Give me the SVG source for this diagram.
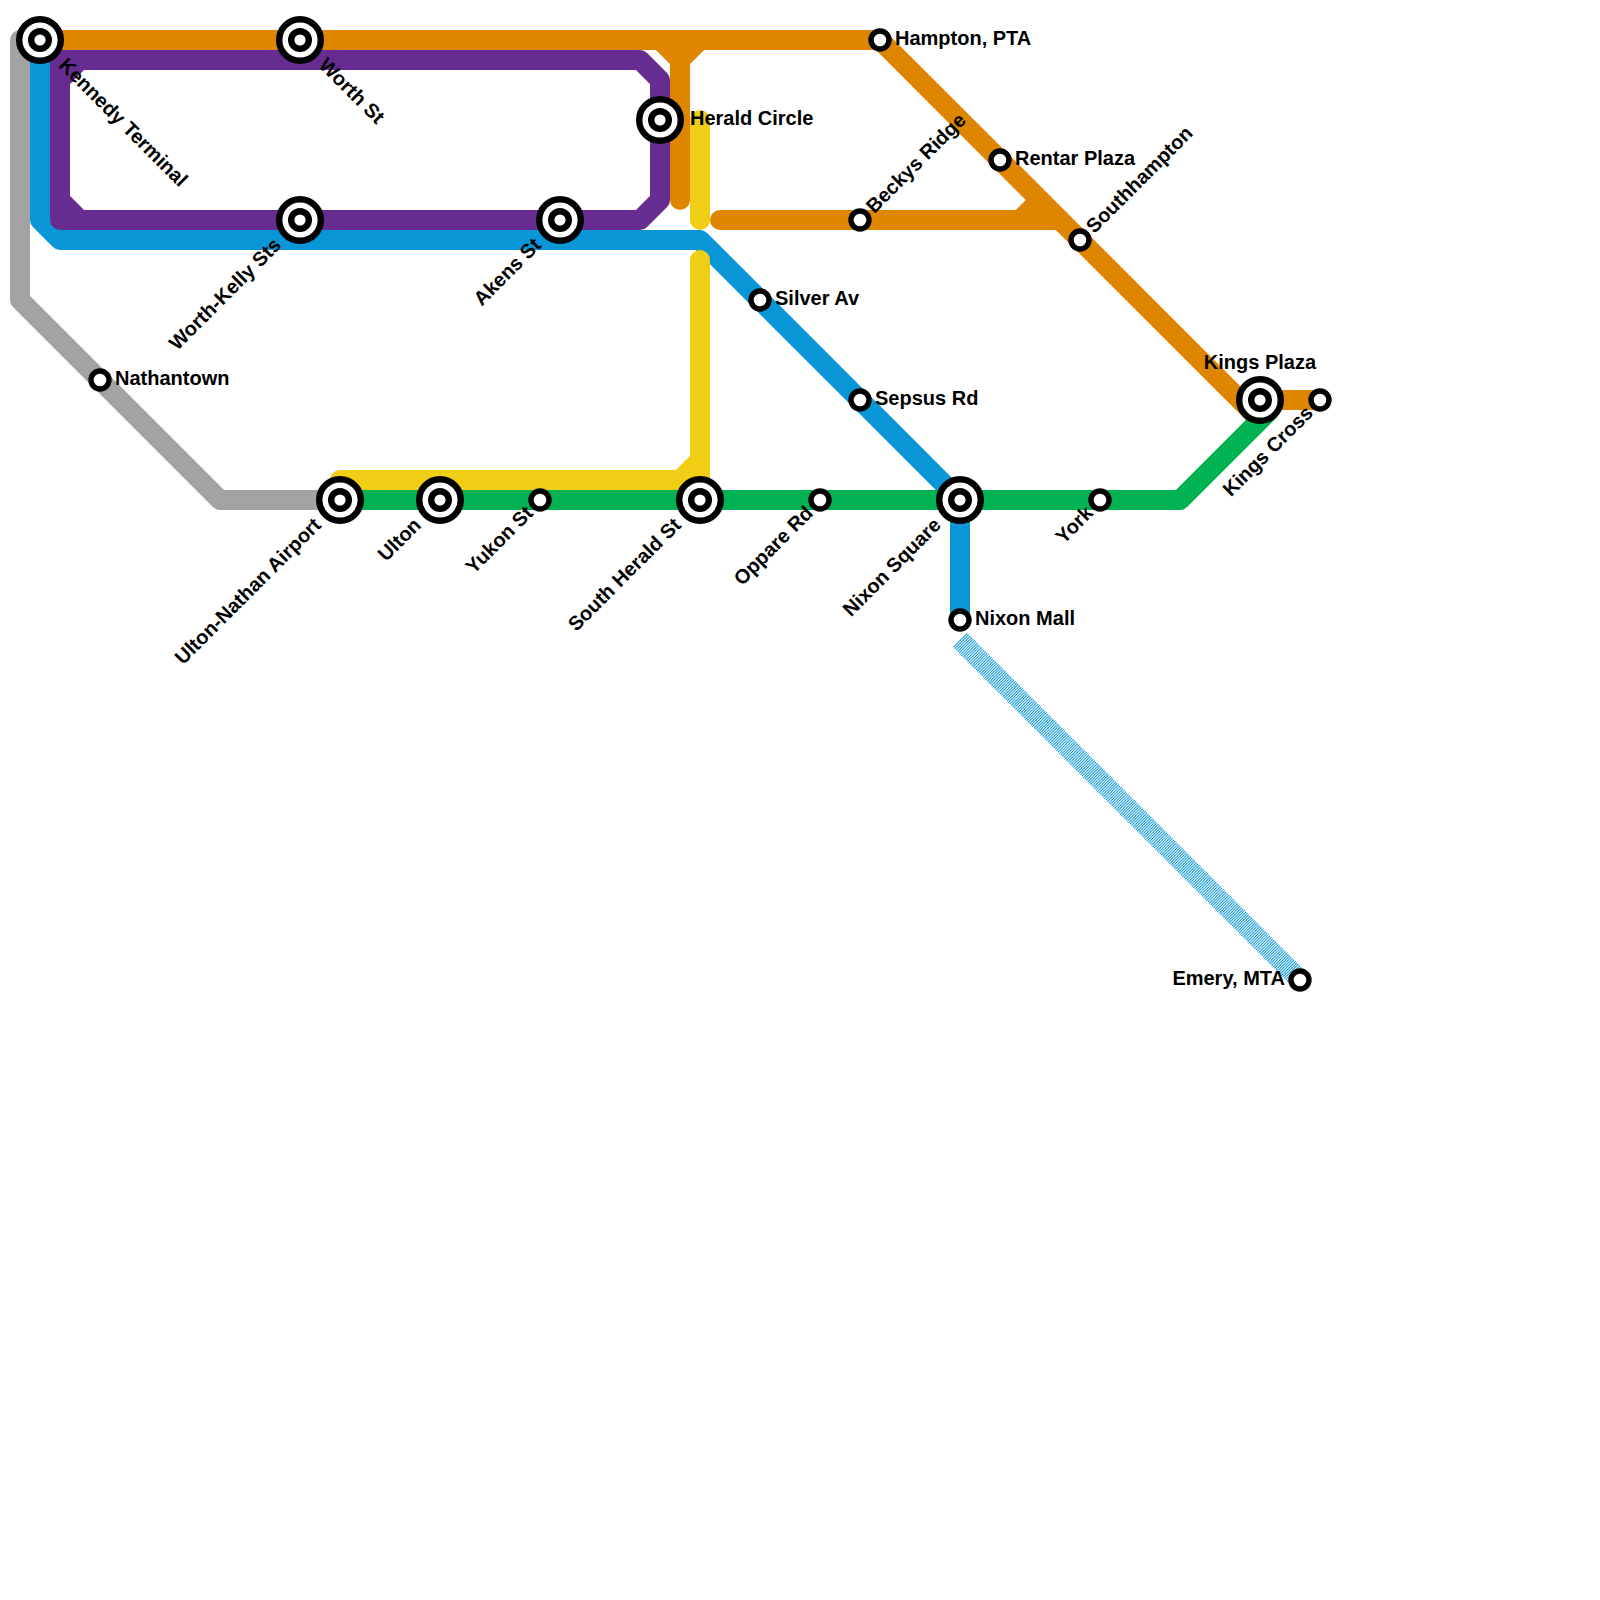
<svg xmlns="http://www.w3.org/2000/svg" width="1600" height="1600" viewBox="0 0 1600 1600">
<style>
.l{fill:none;stroke-width:20;stroke-linejoin:round}
.r{stroke-linecap:round}
.s1{fill:#fff;stroke:#000;stroke-width:6.4}
.s2{fill:#fff;stroke:#000;stroke-width:6.4}
.s3{fill:#fff;stroke:#000;stroke-width:5.4}
text{font-family:"Liberation Sans",Arial,sans-serif;font-weight:700;font-size:20px;fill:#000}
.e{text-anchor:end}.m{text-anchor:middle}
</style>
<rect width="1600" height="1600" fill="#fff"/>
<g id="connectors">
<path class="l" stroke="#a3a3a3" d="M40,40H20V300L220,500H340"/>
<path class="l" stroke="#0896d7" d="M40,40V220L60,240H700L960,500V620"/>
<path class="l" stroke="#0896d7" stroke-dasharray="1 1" d="M960,640L1300,980"/>
<path class="l" stroke="#662c90" d="M60,60H640L660,80V200L640,220H60ZM60,80L80,60M60,200L80,220"/>
<path class="l" stroke="#df8600" d="M40,40H880L1260,420M1240,400H1320M660,40L680,60L700,40"/>
<path class="l" stroke="#df8600" d="M680,60V200" stroke-linecap="round"/>
<path class="l r" stroke="#df8600" d="M720,220H1060M1020,220L1040,200"/>
<path class="l r" stroke="#f0ce15" d="M700,120V220"/>
<path class="l r" stroke="#f0ce15" d="M700,260V480H340M680,480L700,460"/>
<path class="l" stroke="#00b251" d="M340,500H1180L1270,410"/>
</g>
<defs>
<g id="big"><circle r="20.8" class="s1"/><circle r="8.8" class="s2"/></g>
<circle id="small" r="9" class="s3"/>
</defs>
<g id="kennedy-terminal"><use href="#big" x="40" y="40"/><text transform="translate(62,62) rotate(45)" dy="6">Kennedy Terminal</text></g>
<g id="worth-st"><use href="#big" x="300" y="40"/><text transform="translate(322,62) rotate(45)" dy="6">Worth St</text></g>
<g id="worth-kelly-sts"><use href="#big" x="300" y="220"/><text class="e" transform="translate(278,242) rotate(-45)" dy="6">Worth-Kelly Sts</text></g>
<g id="akens-st"><use href="#big" x="560" y="220"/><text class="e" transform="translate(538,242) rotate(-45)" dy="6">Akens St</text></g>
<g id="herald-circle"><use href="#big" x="660" y="120"/><text x="690" y="125">Herald Circle</text></g>
<g id="hampton-pta"><use href="#small" x="880" y="40"/><text x="895" y="45">Hampton, PTA</text></g>
<g id="rentar-plaza"><use href="#small" x="1000" y="160"/><text x="1015" y="165">Rentar Plaza</text></g>
<g id="beckys-ridge"><use href="#small" x="860" y="220"/><text transform="translate(870,210) rotate(-45)" dy="6">Beckys Ridge</text></g>
<g id="southhampton"><use href="#small" x="1080" y="240"/><text transform="translate(1090,230) rotate(-45)" dy="6">Southhampton</text></g>
<g id="kings-plaza"><use href="#big" x="1260" y="400"/><text class="m" x="1260" y="369">Kings Plaza</text></g>
<g id="kings-cross"><use href="#small" x="1320" y="400"/><text class="e" transform="translate(1310,410) rotate(-45)" dy="6">Kings Cross</text></g>
<g id="nathantown"><use href="#small" x="100" y="380"/><text x="115" y="385">Nathantown</text></g>
<g id="ulton-nathan-airport"><use href="#big" x="340" y="500"/><text class="e" transform="translate(318,522) rotate(-45)" dy="6">Ulton-Nathan Airport</text></g>
<g id="ulton"><use href="#big" x="440" y="500"/><text class="e" transform="translate(418,522) rotate(-45)" dy="6">Ulton</text></g>
<g id="yukon-st"><use href="#small" x="540" y="500"/><text class="e" transform="translate(530,510) rotate(-45)" dy="6">Yukon St</text></g>
<g id="south-herald-st"><use href="#big" x="700" y="500"/><text class="e" transform="translate(678,522) rotate(-45)" dy="6">South Herald St</text></g>
<g id="oppare-rd"><use href="#small" x="820" y="500"/><text class="e" transform="translate(810,510) rotate(-45)" dy="6">Oppare Rd</text></g>
<g id="nixon-square"><use href="#big" x="960" y="500"/><text class="e" transform="translate(938,522) rotate(-45)" dy="6">Nixon Square</text></g>
<g id="york"><use href="#small" x="1100" y="500"/><text class="e" transform="translate(1090,510) rotate(-45)" dy="6">York</text></g>
<g id="nixon-mall"><use href="#small" x="960" y="620"/><text x="975" y="625">Nixon Mall</text></g>
<g id="silver-av"><use href="#small" x="760" y="300"/><text x="775" y="305">Silver Av</text></g>
<g id="sepsus-rd"><use href="#small" x="860" y="400"/><text x="875" y="405">Sepsus Rd</text></g>
<g id="emery-mta"><use href="#small" x="1300" y="980"/><text class="e" x="1285" y="985">Emery, MTA</text></g>
</svg>
